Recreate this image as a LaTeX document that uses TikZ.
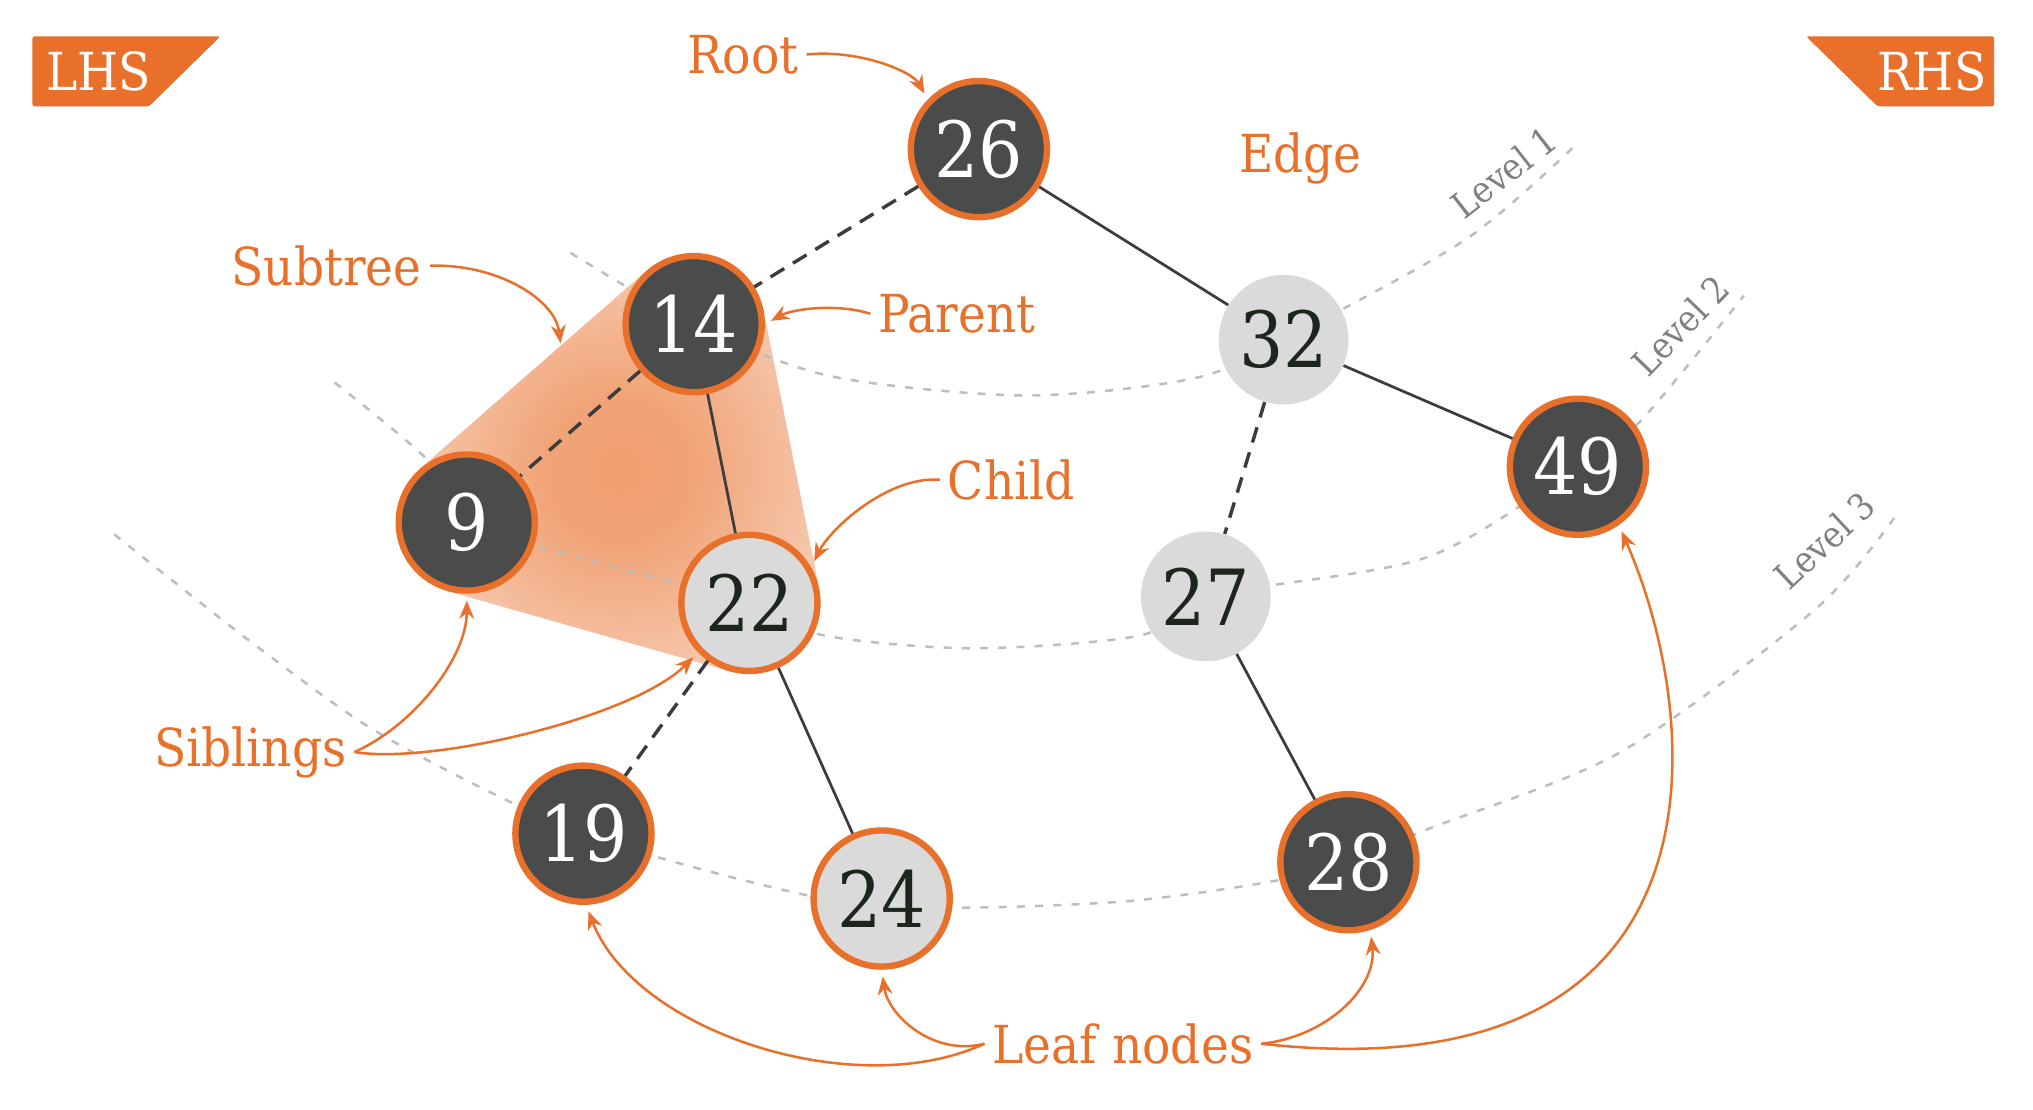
\documentclass[tikz,border=0pt]{standalone}
\usepackage{fontspec}
\setmainfont{DejaVu Serif Condensed}
\usetikzlibrary{arrows.meta,backgrounds}

\definecolor{treeorange}{HTML}{E8702A}
\definecolor{nodedark}{HTML}{4A4B4B}
\definecolor{nodelight}{HTML}{D9DAD9}
\definecolor{levelgray}{HTML}{BDBDBD}
\definecolor{edgedark}{HTML}{3C3C3C}
\definecolor{digitdark}{HTML}{1C261C}

\pgfdeclareradialshading{subtreeglow}{\pgfpoint{0bp}{0bp}}{%
  color(0bp)=(treeorange!68!white); color(9bp)=(treeorange!64!white);
  color(22bp)=(treeorange!45!white); color(34bp)=(treeorange!28!white);
  color(50bp)=(treeorange!15!white)}

\tikzset{
  darknode/.style={circle, fill=nodedark, draw=treeorange, line width=2.8pt,
    minimum size=2.1cm, text=white, font=\fontsize{34}{34}\selectfont},
  lightnode/.style={darknode, fill=nodelight, text=digitdark},
  plainnode/.style={circle, fill=nodelight, minimum size=2cm, text=digitdark,
    font=\fontsize{34}{34}\selectfont},
  treeedge/.style={draw=edgedark, line width=1.2pt},
  dashededge/.style={treeedge, line width=1.5pt, dash pattern=on 7pt off 4.5pt},
  levelline/.style={draw=levelgray, line width=1.1pt, dash pattern=on 3.5pt off 4.5pt},
  levellabel/.style={text=gray, font=\fontsize{16}{16}\selectfont},
  notetext/.style={text=treeorange, font=\fontsize{23}{23}\selectfont},
  notearrow/.style={draw=treeorange, line width=1.1pt, shorten >=3pt,
    -{Stealth[length=8pt,width=6.5pt]}},
  badge/.style={fill=treeorange, rounded corners=1pt},
  badgetext/.style={text=white, font=\fontsize{23}{23}\selectfont},
}

\begin{document}
\begin{tikzpicture}[x=0.02cm, y=0.02cm]
  \useasboundingbox (0,0) rectangle (1568,856);

  % Badges
  \fill[badge] (25,828) -- (170,828) -- (115,774) -- (25,774) -- cycle;
  \node[badgetext] (lhs) at (76,801) {LHS};
  \fill[badge] (1393,828) -- (1538,828) -- (1538,774) -- (1448,774) -- cycle;
  \node[badgetext] (rhs) at (1490,801) {RHS};

  % Nodes
  \node[darknode] (n26) at (755,741) {26};
  \node[darknode] (n14) at (535,606) {14};
  \node[plainnode] (n32) at (990,594) {32};
  \node[darknode] (n49) at (1217,496) {49};
  \node[darknode] (n9) at (360,453) {9};
  \node[lightnode] (n22) at (578,391) {22};
  \node[plainnode] (n27) at (930,396) {27};
  \node[darknode] (n19) at (450,213) {19};
  \node[lightnode] (n24) at (680,163) {24};
  \node[darknode] (n28) at (1040,191) {28};

  % Edges
  \draw[dashededge] (n26) -- (n14);
  \draw[treeedge] (n26) -- (n32);
  \draw[dashededge] (n14) -- (n9);
  \draw[treeedge] (n14) -- (n22);
  \draw[dashededge] (n32) -- (n27);
  \draw[treeedge] (n32) -- (n49);
  \draw[dashededge] (n22) -- (n19);
  \draw[treeedge] (n22) -- (n24);
  \draw[treeedge] (n27) -- (n28);

  % Subtree shading and levels
  \begin{scope}[on background layer]
    \fill[white] (0,0) rectangle (1568,856);
    \shade[shading=subtreeglow]
      (n14.131) -- (n9.131) -- (n9.254) -- (n22.254) -- (n22.11) -- (n14.11) -- cycle;
    \draw[levelline] plot[smooth] coordinates {(440,661) (n14.center) (640,566)
      (790,551) (920,564) (n32.center) (1130,671) (1215,744)};
    \draw[levelline] plot[smooth] coordinates {(258,561) (330,501) (n9.center)
      (470,420) (n22.center) (635,366) (750,356) (880,366) (n27.center)
      (1100,426) (n49.center) (1265,531) (1345,628)};
    \draw[levelline] plot[smooth] coordinates {(88,444) (200,356) (300,286)
      (n19.center) (620,166) (n24.center) (740,156) (870,161) (980,176)
      (n28.center) (1100,216) (1250,276) (1400,386) (1462,458)};
  \end{scope}
  \node[levellabel, rotate=38] (lvl1) at (1160,723) {Level 1};
  \node[levellabel, rotate=46] (lvl2) at (1296,605) {Level 2};
  \node[levellabel, rotate=43] (lvl3) at (1407,439) {Level 3};

  % Labels
  \node[notetext] (root) at (573,814) {Root};
  \node[notetext] (edgelabel) at (1003,734) {Edge};
  \node[notetext] (subtree) at (252,651) {Subtree};
  \node[notetext] (parent) at (738,614) {Parent};
  \node[notetext] (child) at (780,486) {Child};
  \node[notetext] (siblings) at (193,276) {Siblings};
  \node[notetext] (leaves) at (866,51) {Leaf nodes};
  \coordinate (subtreetip) at (433,586);

  % Arrows
  \draw[notearrow] (root.east) .. controls +(40,4) and +(-12,22) .. (n26.136);
  \draw[notearrow] (subtree.east) .. controls +(50,2) and +(-5,40) .. (subtreetip);
  \draw[notearrow] (parent.west) .. controls +(-25,8) and +(22,12) .. (n14.east);
  \draw[notearrow] (child.west) .. controls +(-40,3) and +(15,30) .. (n22.30);
  \draw[notearrow] (siblings.east) .. controls +(45,20) and +(0,-50) .. (n9.south);
  \draw[notearrow] (siblings.east) .. controls +(60,-10) and +(-50,-50) .. (n22.224);
  \draw[notearrow] (leaves.west) .. controls (660,5) and (490,60) .. (n19.-88);
  \draw[notearrow] (leaves.west) .. controls +(-40,-10) and +(5,-35) .. (n24.south);
  \draw[notearrow] (leaves.east) .. controls +(50,5) and +(5,-45) .. (n28.-72);
  \draw[notearrow] (leaves.east) .. controls (1340,10) and (1315,300) .. (n49.-55);
\end{tikzpicture}
\end{document}
